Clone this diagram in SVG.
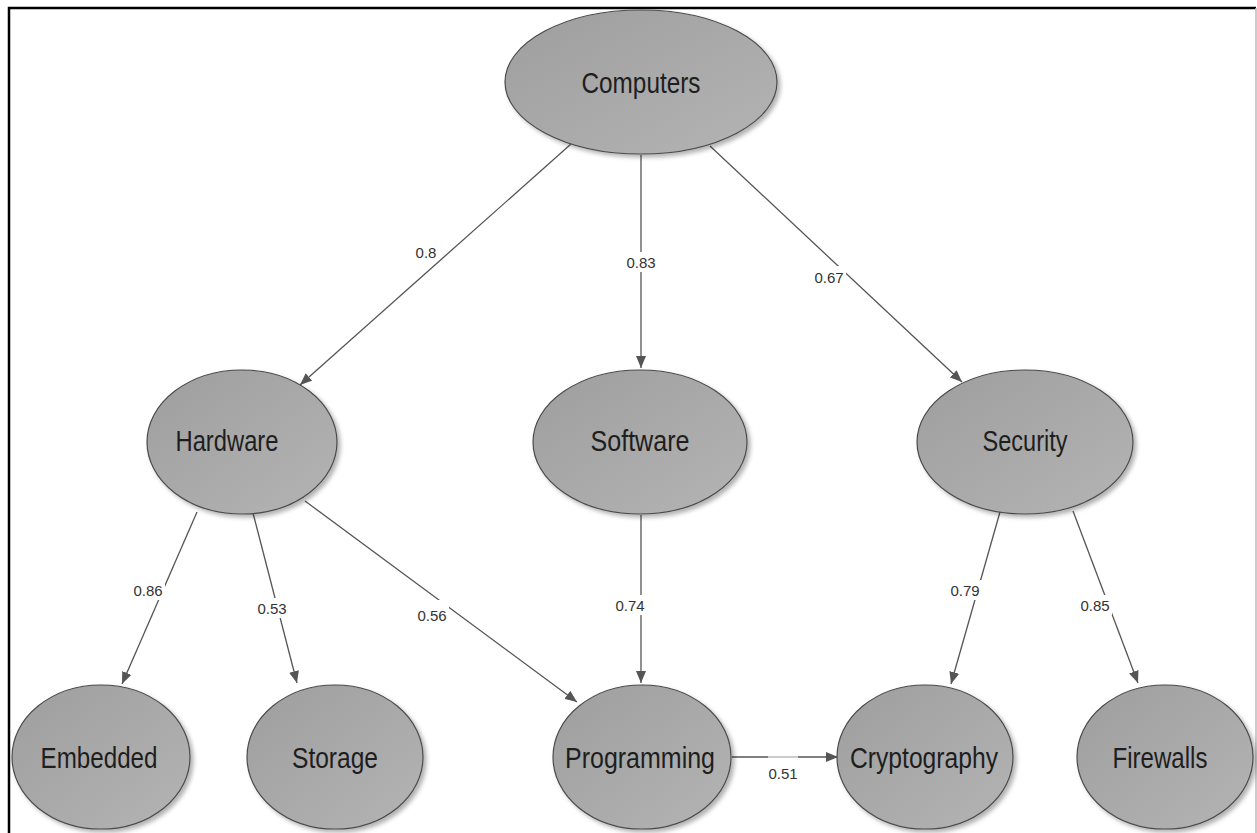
<svg xmlns="http://www.w3.org/2000/svg" width="1257" height="833" viewBox="0 0 1257 833">
  <defs>
    <linearGradient id="nodeFill" x1="0" y1="0" x2="1" y2="1">
      <stop offset="0" stop-color="#9e9e9e"/>
      <stop offset="1" stop-color="#b4b4b4"/>
    </linearGradient>
    <filter id="shadow" x="-10%" y="-10%" width="125%" height="125%">
      <feDropShadow dx="3" dy="3" stdDeviation="2" flood-color="#000" flood-opacity="0.3"/>
    </filter>
    <marker id="arrow" viewBox="0 0 12 10" refX="12" refY="5" markerWidth="12" markerHeight="10" markerUnits="userSpaceOnUse" orient="auto">
      <path d="M0,0 L12,5 L0,10 Z" fill="#555"/>
    </marker>
  </defs>
  <style>
    .node ellipse { fill: url(#nodeFill); stroke: #4a4a4a; stroke-width: 1.2; filter: url(#shadow); }
    .node text { font-family: "Liberation Sans", Arial, sans-serif; font-size: 29px; fill: #1e1e1e; text-anchor: middle; }
    .edge line { stroke: #555; stroke-width: 1.3; marker-end: url(#arrow); }
    .edge rect { fill: #fff; }
    .edge text { font-family: "Liberation Sans", Arial, sans-serif; font-size: 15px; fill: #333; text-anchor: middle; }
  </style>

  <!-- frame -->
  <path d="M9,833 V8 H1256" fill="none" stroke="#000" stroke-width="2.5"/>
  <line x1="1256" y1="8" x2="1256" y2="833" stroke="#bbb" stroke-width="1.5"/>

  <g id="connectors">
    <g class="edge"><line x1="571" y1="144" x2="300" y2="385"/><rect x="413" y="242" width="27" height="18"/><text x="426" y="258">0.8</text></g>
    <g class="edge"><line x1="641" y1="155" x2="641" y2="368"/><rect x="623" y="252" width="36" height="20"/><text x="641" y="268">0.83</text></g>
    <g class="edge"><line x1="710" y1="146" x2="962" y2="382"/><rect x="812" y="266" width="34" height="20"/><text x="829" y="283">0.67</text></g>
    <g class="edge"><line x1="197" y1="512" x2="122" y2="684"/><rect x="131" y="580" width="34" height="20"/><text x="148" y="596">0.86</text></g>
    <g class="edge"><line x1="253" y1="513" x2="297" y2="683"/><rect x="255" y="598" width="34" height="20"/><text x="272" y="614">0.53</text></g>
    <g class="edge"><line x1="305" y1="501" x2="577" y2="702"/><rect x="415" y="600" width="34" height="24"/><text x="432" y="621">0.56</text></g>
    <g class="edge"><line x1="641" y1="515" x2="641" y2="683"/><rect x="612" y="595" width="36" height="20"/><text x="630" y="611">0.74</text></g>
    <g class="edge"><line x1="1000" y1="512" x2="951" y2="684"/><rect x="948" y="580" width="34" height="20"/><text x="965" y="596">0.79</text></g>
    <g class="edge"><line x1="1073" y1="511" x2="1138" y2="683"/><rect x="1078" y="595" width="34" height="20"/><text x="1095" y="611">0.85</text></g>
    <g class="edge"><line x1="732" y1="757" x2="838" y2="757"/><rect x="768" y="754" width="30" height="6" opacity="0.6"/><text x="783" y="779">0.51</text></g>
  </g>

  <g id="computers" class="node"><ellipse cx="641" cy="82" rx="136" ry="72"/><text x="641" y="93" textLength="119" lengthAdjust="spacingAndGlyphs">Computers</text></g>
  <g id="hardware" class="node"><ellipse cx="242" cy="442" rx="95" ry="72"/><text x="227" y="451" textLength="103" lengthAdjust="spacingAndGlyphs">Hardware</text></g>
  <g id="software" class="node"><ellipse cx="640" cy="442" rx="107" ry="72"/><text x="640" y="451" textLength="99" lengthAdjust="spacingAndGlyphs">Software</text></g>
  <g id="security" class="node"><ellipse cx="1025" cy="442" rx="108" ry="72"/><text x="1025" y="451" textLength="85" lengthAdjust="spacingAndGlyphs">Security</text></g>
  <g id="embedded" class="node"><ellipse cx="101" cy="757" rx="89" ry="72"/><text x="99" y="768" textLength="117" lengthAdjust="spacingAndGlyphs">Embedded</text></g>
  <g id="storage" class="node"><ellipse cx="335" cy="757" rx="88" ry="72"/><text x="335" y="768" textLength="86" lengthAdjust="spacingAndGlyphs">Storage</text></g>
  <g id="programming" class="node"><ellipse cx="642" cy="757" rx="89" ry="72"/><text x="640" y="768" textLength="150" lengthAdjust="spacingAndGlyphs">Programming</text></g>
  <g id="cryptography" class="node"><ellipse cx="925" cy="757" rx="88" ry="72"/><text x="924" y="768" textLength="148" lengthAdjust="spacingAndGlyphs">Cryptography</text></g>
  <g id="firewalls" class="node"><ellipse cx="1165" cy="757" rx="88" ry="72"/><text x="1160" y="768" textLength="95" lengthAdjust="spacingAndGlyphs">Firewalls</text></g>
</svg>
